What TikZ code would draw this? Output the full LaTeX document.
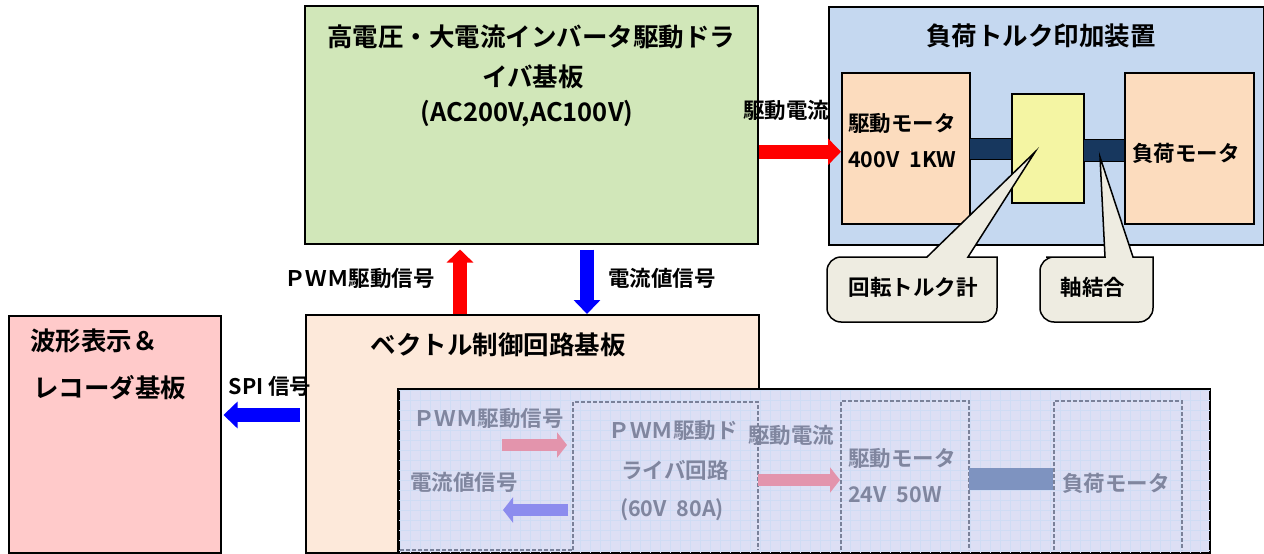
\documentclass[tikz,border=0pt]{standalone}
\usepackage{fontspec}
\setmainfont{Noto Sans CJK JP}[BoldFont={Noto Sans CJK JP Bold}]
\usetikzlibrary{arrows.meta,calc}
\definecolor{hvgreen}{HTML}{D1E7B9}
\definecolor{ldblue}{HTML}{C5D8F0}
\definecolor{motor}{HTML}{FCDCBE}
\definecolor{meter}{HTML}{F4F5A3}
\definecolor{vecbox}{HTML}{FDE9DA}
\definecolor{wavebox}{HTML}{FFCACA}
\definecolor{callcol}{HTML}{EEECE1}
\definecolor{shaftcol}{HTML}{17375E}
\definecolor{ovfill}{HTML}{DDDFF4}
\definecolor{ovgrid}{HTML}{CFDCF4}
\definecolor{fadetext}{HTML}{80869F}
\definecolor{fadered}{HTML}{E394AC}
\definecolor{fadeblue}{HTML}{8C8CEE}
\definecolor{fadeshaft}{HTML}{7E93C0}
\definecolor{fadeline}{HTML}{7A8199}
\begin{document}
\begin{tikzpicture}[x=1pt,y=-1pt,
  box/.style={draw=black,line width=1.5pt,inner sep=0pt,anchor=north west},
  big/.style={font=\bfseries\fontsize{25.5}{30}\selectfont,inner sep=0pt},
  small/.style={font=\bfseries\fontsize{21.5}{26}\selectfont,inner sep=0pt},
  fade/.style={font=\bfseries\fontsize{21.5}{26}\selectfont,inner sep=0pt,text=fadetext},
  redarrow/.style={draw=red,line width=14pt,-{Triangle[length=13pt,width=26pt]}},
  bluearrow/.style={draw=blue,line width=14pt,-{Triangle[length=14pt,width=26pt]}},
  fredarrow/.style={draw=fadered,line width=12pt,-{Triangle[length=10pt,width=25pt]}},
  fbluearrow/.style={draw=fadeblue,line width=12pt,-{Triangle[length=10pt,width=25pt]}},
  callout/.style={draw=black,line width=1.5pt,fill=callcol,line join=miter},
  fadebox/.style={draw=fadeline,line width=1.5pt,dash pattern=on 4pt off 2pt}
]
\useasboundingbox (0,0) rectangle (1264,554);

% top-left driver board
\node[box,fill=hvgreen,minimum width=453pt,minimum height=238pt] (hv) at (304,5) {};
\node[big] (hvt1) at (531,37) {高電圧・大電流インバータ駆動ドラ};
\node[big] (hvt2) at (533,77) {イバ基板};
\node[big] (hvt3) at (527,114) {(AC200V,AC100V)};

% load torque device
\node[box,fill=ldblue,minimum width=435pt,minimum height=238pt] (ld) at (828,6) {};
\node[big] (ldt) at (1041,36) {負荷トルク印加装置};
\node[box,fill=motor,minimum width=128pt,minimum height=151pt] (dm) at (841,72) {};
\node[small,anchor=west] (dmt1) at (848,123) {駆動モータ};
\node[small,anchor=west] (dmt2) at (848,160) {400V\ \ 1KW};
\node[box,fill=meter,minimum width=72pt,minimum height=109pt] (tm) at (1011,93) {};
\node[box,fill=motor,minimum width=129pt,minimum height=151pt] (lm) at (1124,72) {};
\node[small,anchor=west] (lmt) at (1132,153) {負荷モータ};
\node[box,fill=shaftcol,line width=0.8pt,minimum width=42pt,minimum height=21pt] (sh1) at (969,138) {};
\node[box,fill=shaftcol,line width=0.8pt,minimum width=41pt,minimum height=22pt] (sh2) at (1083,139) {};

% callouts
\draw[callout] (880,257) -- (927,257) -- (1035,152) -- (968,257) -- (997,257)
  [rounded corners=14pt] -- (997,322) -- (827,322) -- (827,257) -- cycle;
\node[small] (rtk) at (913,287) {回転トルク計};
\draw[callout] (1060,257) -- (1105,257) -- (1100,157) -- (1133,257) -- (1153,257)
  [rounded corners=14pt] -- (1153,322) -- (1040,322) -- (1040,257) -- cycle;
\node[small] (jk) at (1093,287) {軸結合};

% waveform / recorder board
\node[box,fill=wavebox,minimum width=212pt,minimum height=237pt] (wv) at (8,315) {};
\node[big,anchor=west] (wvt1) at (30,341) {波形表示＆};
\node[big,anchor=west] (wvt2) at (33,388) {レコーダ基板};

% vector control board
\node[box,fill=vecbox,minimum width=453pt,minimum height=238pt] (vb) at (305,314) {};
\node[big] (vbt) at (498,345) {ベクトル制御回路基板};

% faded overlay picture
\node[box,fill=ovfill,minimum width=811pt,minimum height=163pt] (ov) at (398,389) {};
\begin{scope}
  \clip (ov.north west) rectangle (ov.south east);
  \draw[ovgrid,line width=0.3pt,step=10pt] (ov.north west) grid (ov.south east);
\end{scope}
\draw[black,line width=1.5pt] (ov.north west) rectangle (ov.south east);
\draw[fadebox] (573,550) -- (573,402) -- (758,402) -- (758,550);
\draw[fadebox] (400,550) -- (573,550);
\draw[fadebox] (841,550) -- (841,401) -- (969,401) -- (969,550);
\draw[fadebox] (1054,550) -- (1054,401) -- (1182,401) -- (1182,550);
\node[fade,anchor=west] (f1) at (413,418) {ＰＷＭ駆動信号};
\node[fade,anchor=west] (f2) at (410,482) {電流値信号};
\node[fade] (f3) at (673,430) {ＰＷＭ駆動ド};
\node[fade] (f4) at (675,470) {ライバ回路};
\node[fade] (f5) at (672,510) {(60V\ \ 80A)};
\node[fade,anchor=west] (f6) at (748,435) {駆動電流};
\node[fade,anchor=west] (f7) at (848,458) {駆動モータ};
\node[fade,anchor=west] (f8) at (848,495) {24V\ \ 50W};
\node[fade,anchor=west] (f9) at (1062,483) {負荷モータ};
\fill[fadeshaft] (969,468) rectangle (1053,490);
\coordinate (fa1s) at (502,445);
\coordinate (fa1e) at (567,445);
\draw[fredarrow] (fa1s) -- (fa1e);
\coordinate (fa2s) at (568,510);
\coordinate (fa2e) at (503,510);
\draw[fbluearrow] (fa2s) -- (fa2e);
\coordinate (fa3s) at (758,480);
\coordinate (fa3e) at (840,480);
\draw[fredarrow] (fa3s) -- (fa3e);

% connectors
\coordinate (dmin) at ($(dm.west)+(0,3.5)$);
\draw[redarrow] (hv.east |- dmin) -- (dmin);
\node[small] (lbl1) at (786,110) {駆動電流};

\coordinate (pwmx) at (460,280);
\draw[redarrow,shorten >=5pt] (vb.north -| pwmx) -- (hv.south -| pwmx);
\node[small,anchor=east] (lbl2) at (435,278) {ＰＷＭ駆動信号};

\coordinate (curx) at (587,280);
\draw[bluearrow,shorten <=5pt] (hv.south -| curx) -- (vb.north -| curx);
\node[small,anchor=west] (lbl3) at (608,278) {電流値信号};

\coordinate (spiy) at (260,415);
\draw[bluearrow,shorten <=5pt,shorten >=2pt] (vb.west |- spiy) -- (wv.east |- spiy);
\node[small] (lbl4) at (270,386) {SPI 信号};
\end{tikzpicture}
\end{document}
